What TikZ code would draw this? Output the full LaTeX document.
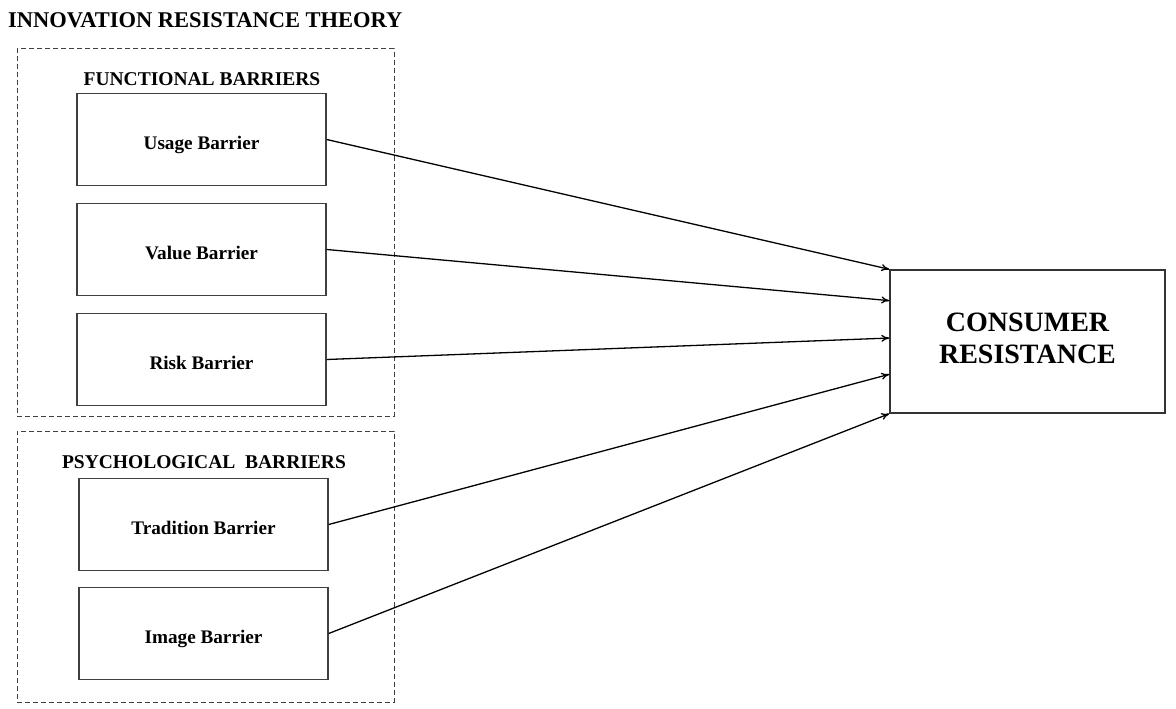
\documentclass[tikz,border=0pt]{standalone}
\usepackage{fontspec}
\setmainfont{Liberation Serif}
\usetikzlibrary{calc,arrows.meta}
\begin{document}
\begin{tikzpicture}[x=1pt,y=-1pt,
  barrier/.style={draw=black!75,line width=1.4pt,minimum width=249pt,minimum height=92pt,inner sep=0pt,text height=20pt,text depth=0pt,font=\fontsize{19.2}{22}\selectfont\bfseries},
  group/.style={draw=black!75,line width=1pt,dash pattern=on 5pt off 3pt},
  heading/.style={inner sep=0pt,anchor=center,font=\fontsize{19.5}{22}\selectfont\bfseries},
  link/.style={-{To[length=8pt,width=7pt]},line width=1.3pt,black}]
\useasboundingbox (0,0) rectangle (1176,709);
\node[inner sep=0pt,anchor=west,font=\fontsize{22.5}{26}\selectfont\bfseries] (title) at (8,20) {INNOVATION RESISTANCE THEORY};
\node[group,minimum width=377pt,minimum height=367pt,inner sep=0pt] (fgroup) at (205.5,232.5) {};
\node[group,minimum width=377pt,minimum height=271pt,inner sep=0pt] (pgroup) at (205.5,566.5) {};
\node[heading] (fhead) at (202,79) {FUNCTIONAL BARRIERS};
\node[heading] (phead) at (204,462) {PSYCHOLOGICAL\ \ BARRIERS};
\node[barrier] (usage) at (201.5,139.5) {Usage Barrier};
\node[barrier] (value) at (201.5,249.5) {Value Barrier};
\node[barrier] (risk) at (201.5,359.5) {Risk Barrier};
\node[barrier] (trad) at (203.5,524.5) {Tradition Barrier};
\node[barrier] (image) at (203.5,633.5) {Image Barrier};
\node[draw=black!80,line width=1.4pt,minimum width=275pt,minimum height=143pt,inner sep=0pt,align=center,font=\fontsize{28}{32}\selectfont\bfseries] (cr) at (1027.5,341.5) {CONSUMER\\RESISTANCE\rule[-6pt]{0pt}{0pt}};
\coordinate (c1) at ($(cr.north west)!0.217!(cr.south west)$);
\coordinate (c2) at ($(cr.north west)!0.476!(cr.south west)$);
\coordinate (c3) at ($(cr.north west)!0.727!(cr.south west)$);
\draw[link] (usage.east) -- (cr.north west);
\draw[link] (value.east) -- (c1);
\draw[link] (risk.east) -- (c2);
\draw[link] (trad.east) -- (c3);
\draw[link] (image.east) -- (cr.south west);
\end{tikzpicture}
\end{document}
